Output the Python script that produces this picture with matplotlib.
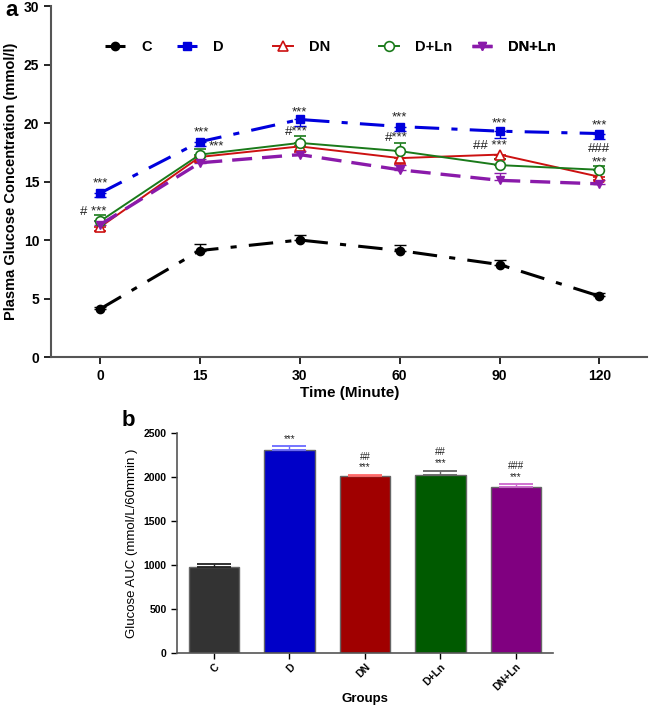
import numpy as np
import matplotlib.pyplot as plt
from matplotlib.lines import Line2D

plt.rcParams['font.family'] = ['Liberation Sans', 'DejaVu Sans']

# ---- panel a data ----
times = ['0', '15', '30', '60', '90', '120']
groups = ['C', 'D', 'DN', 'D+Ln', 'DN+Ln']

glc_C = [4.1, 9.1, 10.0, 9.1, 7.9, 5.2]
glc_D = [14.0, 18.4, 20.3, 19.7, 19.3, 19.1]
glc_DN = [11.1, 17.1, 18.0, 17.0, 17.3, 15.4]
glc_DLn = [11.6, 17.3, 18.3, 17.6, 16.4, 16.0]
glc_DNLn = [11.3, 16.6, 17.3, 16.0, 15.1, 14.8]

err_C = [0.15, 0.6, 0.45, 0.5, 0.4, 0.3]
err_D = [0.35, 0.4, 0.55, 0.35, 0.55, 0.5]
err_DN = [0.3, 0.4, 0.5, 0.5, 0.35, 0.3]
err_DLn = [0.5, 0.5, 0.6, 0.7, 0.5, 0.35]
err_DNLn = [0.3, 0.35, 0.3, 0.4, 0.6, 0.3]

# significance labels (x index, y value, text)
sig_a = [
    (0, 14.8, '***'), (-0.07, 12.4, '# ***'),
    (1.02, 19.2, '***'), (1.17, 18.0, '***'),
    (2.0, 20.9, '***'), (1.97, 19.2, '#***'),
    (3.0, 20.5, '***'), (2.97, 18.7, '#***'),
    (4.0, 20.0, '***'), (3.9, 18.0, '## ***'),
    (5.0, 19.8, '***'), (5.0, 17.75, '###'), (5.0, 16.6, '***'),
]

# ---- panel b data ----
auc = [981, 2304, 2009, 2020, 1881]
auc_err = [35, 45, 15, 50, 40]
sig_b = [['***'], ['##', '***'], ['##', '***'], ['###', '***']]

fig = plt.figure(figsize=(6.49, 7.06), dpi=100)

# ================= panel a =================
ax = fig.add_axes([0.0786, 0.4943, 0.919, 0.4972])
x = np.arange(len(times))

def up(e):
    return [np.zeros(len(e)), e]

def down(e):
    return [e, np.zeros(len(e))]

styles = {
    'C': dict(color='black', ls='-.', lw=2.2, marker='o', ms=6, dashes=(8, 4, 2, 4)),
    'D': dict(color='#0000dd', ls='-.', lw=2.2, marker='s', ms=6, dashes=(8, 4, 2, 4)),
    'DN': dict(color='#cc1111', ls='-', lw=1.4, marker='^', ms=7, mfc='white', mew=1.2),
    'D+Ln': dict(color='#1a7a1a', ls='-', lw=1.4, marker='o', ms=7, mfc='white', mew=1.2),
    'DN+Ln': dict(color='#8a1aaa', ls='--', lw=2.4, marker='v', ms=6, dashes=(6, 3)),
}
series = [(glc_C, up(err_C)), (glc_D, down(err_D)), (glc_DN, down(err_DN)),
          (glc_DLn, up(err_DLn)), (glc_DNLn, up(err_DNLn))]

for g, (vals, err) in zip(groups, series):
    ax.errorbar(x, vals, yerr=err, capsize=4, elinewidth=1, capthick=1, **styles[g])

for xi, yi, s in sig_a:
    ax.text(xi, yi, s, ha='center', va='center', fontsize=9.5, color='#222222')

ax.set_xlim(-0.49, 5.48)
ax.set_ylim(0, 30)
ax.set_xticks(x)
ax.set_xticklabels(times)
ax.set_yticks(np.arange(0, 31, 5))
ax.set_xlabel('Time (Minute)', fontsize=11, fontweight='bold', labelpad=2)
ax.set_ylabel('Plasma Glucose Concentration (mmol/l)', fontsize=10.5, fontweight='bold', labelpad=4)
for lab in ax.get_xticklabels() + ax.get_yticklabels():
    lab.set_fontweight('bold')
    lab.set_fontsize(10)
for sp in ['top', 'right']:
    ax.spines[sp].set_visible(False)
for sp in ['left', 'bottom']:
    ax.spines[sp].set_color('#555555')
    ax.spines[sp].set_linewidth(1.5)
ax.tick_params(colors='black', width=1.2, length=5)

# legend entries placed one by one (uneven spacing like the original)
leg_x = [105, 177, 273, 379, 472]
for g, px in zip(groups, leg_x):
    h = Line2D([], [], **styles[g])
    lg = ax.legend([h], [g], loc='center left', bbox_to_anchor=((px - 51) / 597, 0.883),
                   frameon=False, handlelength=1.4, handletextpad=1.1,
                   borderpad=0, borderaxespad=0, prop={'weight': 'bold', 'size': 10.5})
    ax.add_artist(lg)

fig.text(0.008, 0.985, 'a', fontsize=16, fontweight='bold', va='center')

# ================= panel b =================
bx = fig.add_axes([0.2727, 0.0746, 0.5793, 0.3124])
xb = np.arange(len(groups))
bar_cols = ['#333333', '#0000c8', '#a00000', '#005a00', '#800080']
cap_cols = ['#222222', '#6a6aff', '#ff6a6a', '#666666', '#cc66cc']

bx.bar(xb, auc, width=0.67, color=bar_cols, edgecolor='#666666', linewidth=1)
for i in range(len(groups)):
    bx.errorbar(xb[i], auc[i], yerr=[[0], [auc_err[i]]], color=cap_cols[i],
                capsize=12, elinewidth=1, capthick=1.3, fmt='none')

for i, labs in enumerate(sig_b):
    top = auc[i + 1] + auc_err[i + 1]
    for j, s in enumerate(reversed(labs)):
        bx.text(xb[i + 1], top + 25 + j * 125, s, ha='center', va='bottom',
                fontsize=7, color='#222222')

bx.set_xlim(-0.49, 4.49)
bx.set_ylim(0, 2500)
bx.set_yticks(np.arange(0, 2501, 500))
bx.set_xticks(xb)
bx.set_xticklabels(groups, rotation=45, ha='right', rotation_mode='anchor')
for lab in bx.get_xticklabels() + bx.get_yticklabels():
    lab.set_fontweight('bold')
    lab.set_fontsize(7.5)
bx.tick_params(axis='x', pad=2)
bx.set_ylabel('Glucose AUC (mmol/L/60mmin )', fontsize=9.5)
bx.set_xlabel('Groups', fontsize=9.5, fontweight='bold', labelpad=0)
for sp in ['top', 'right']:
    bx.spines[sp].set_visible(False)
for sp in ['left', 'bottom']:
    bx.spines[sp].set_color('#555555')
    bx.spines[sp].set_linewidth(1.2)
bx.tick_params(width=1, length=4)

fig.text(0.188, 0.405, 'b', fontsize=16, fontweight='bold', va='center')

fig.savefig('out.png', dpi=100)
